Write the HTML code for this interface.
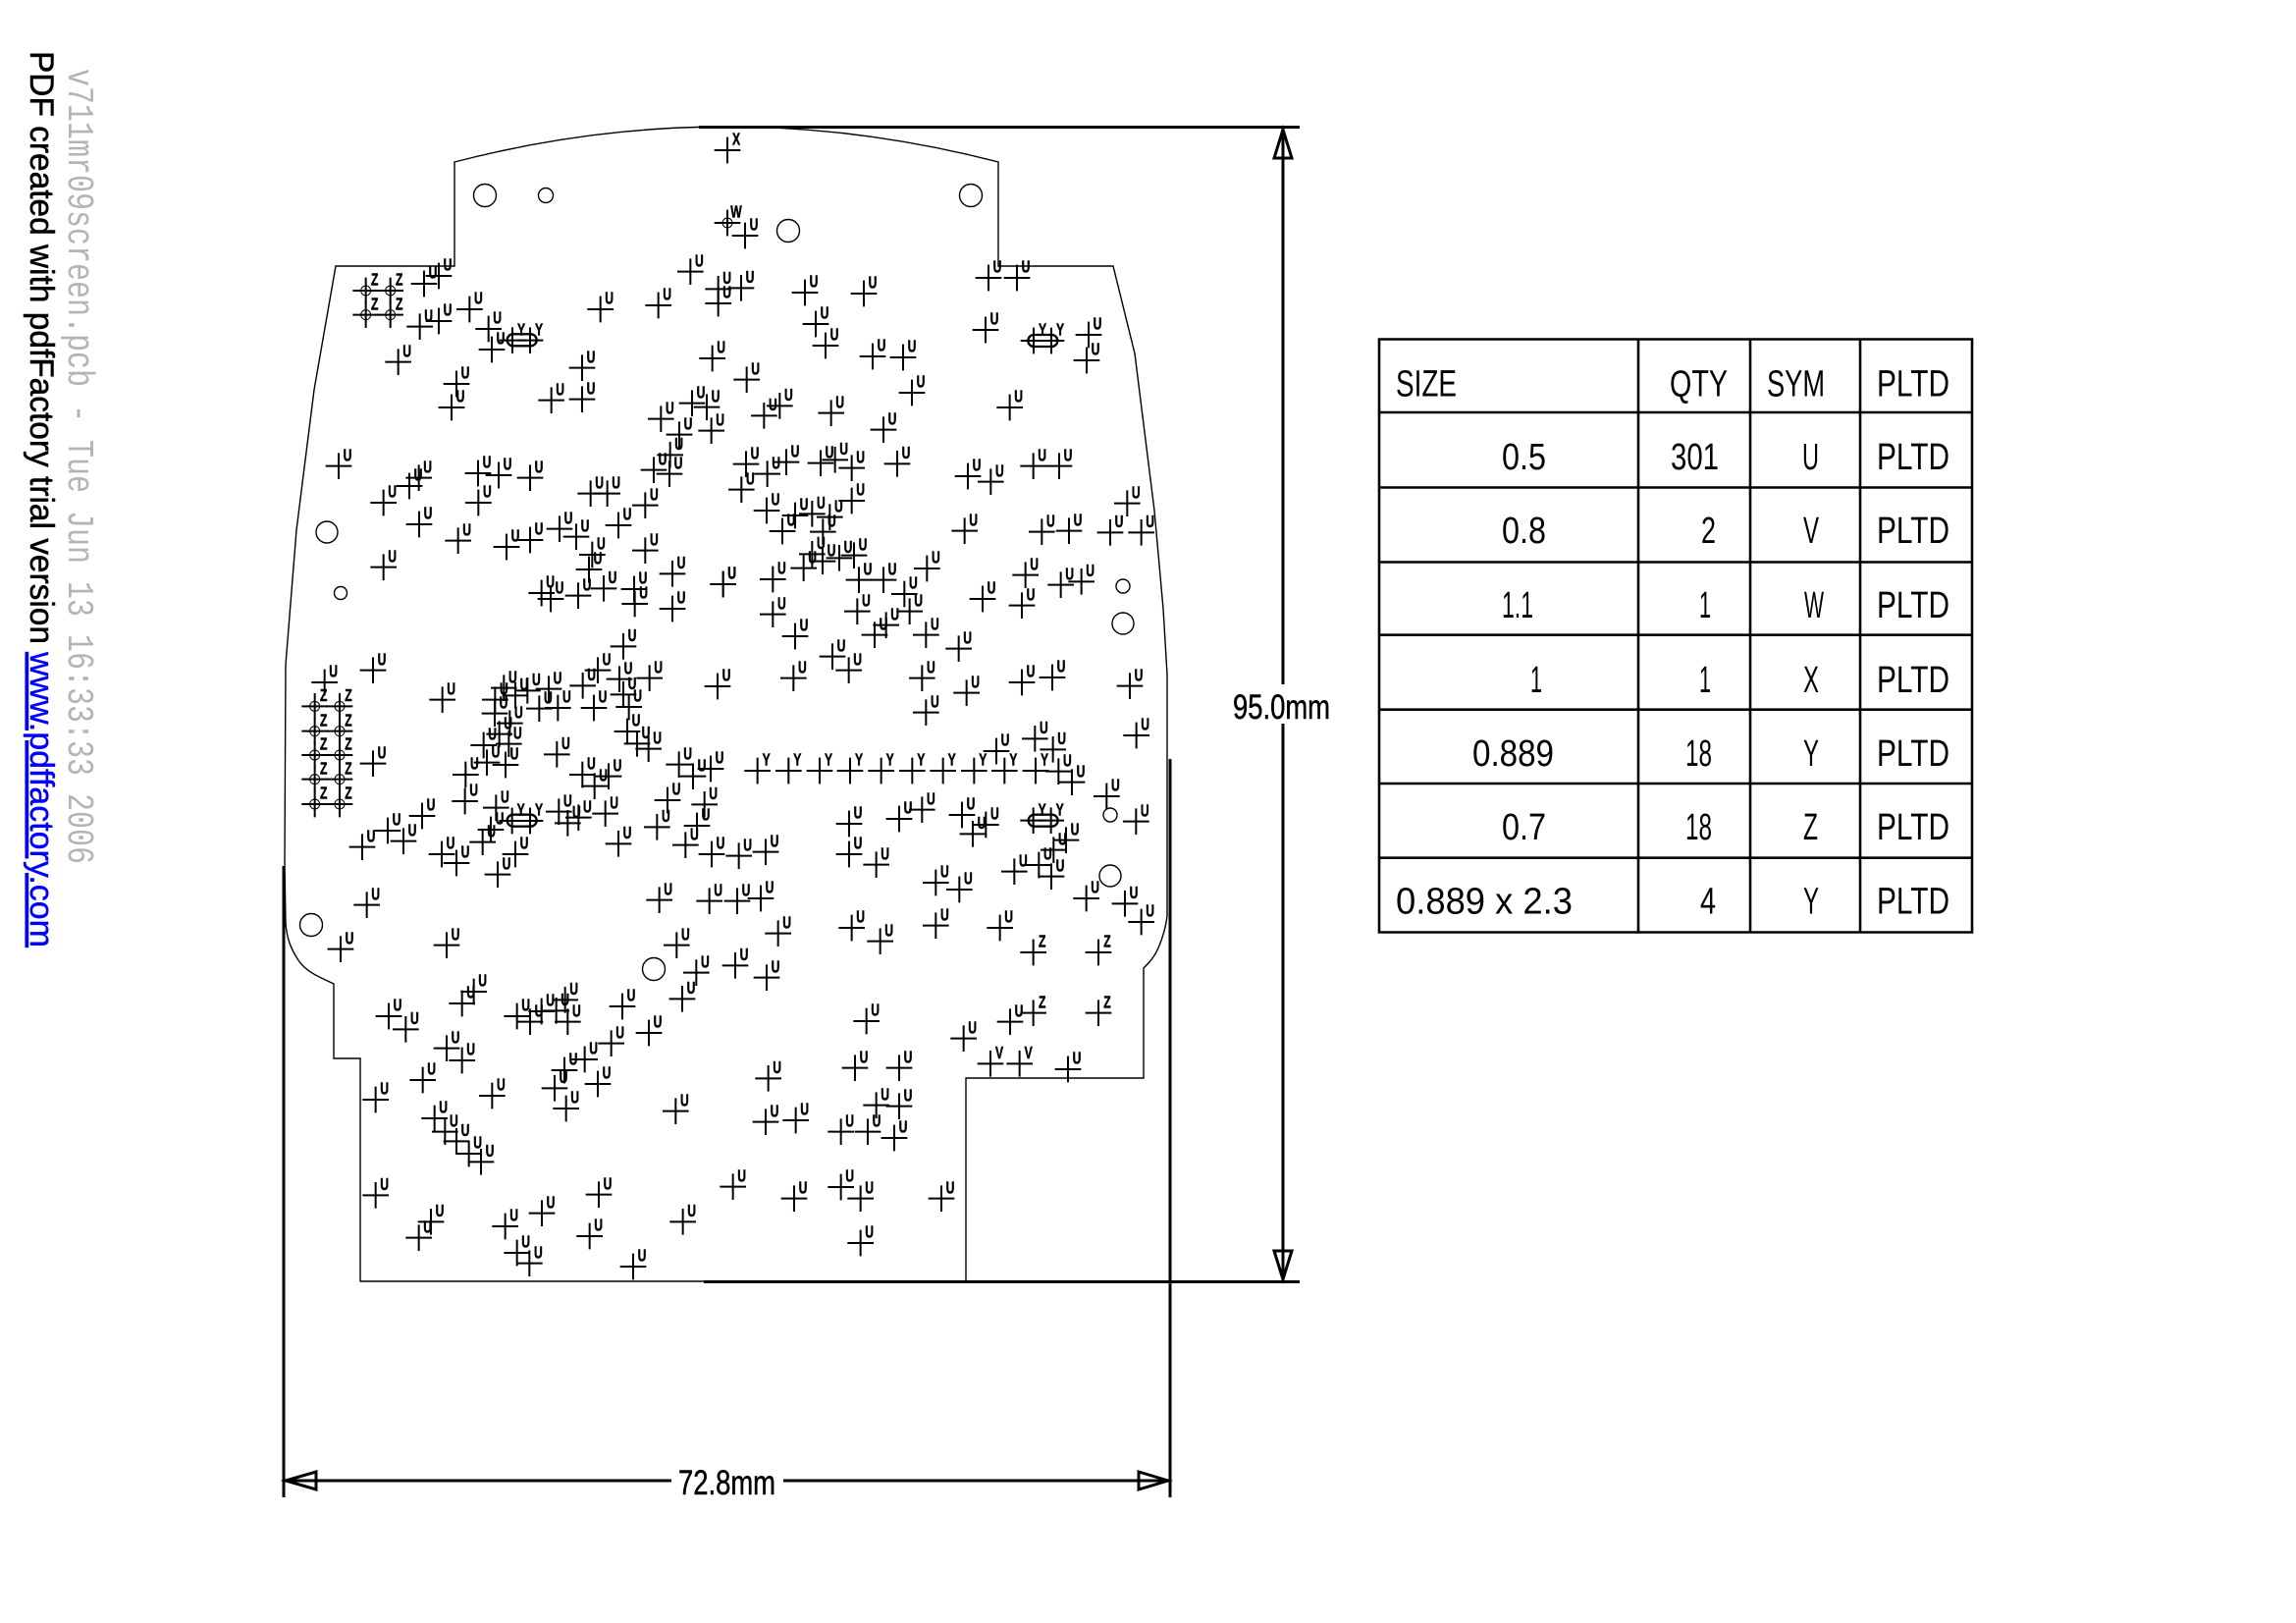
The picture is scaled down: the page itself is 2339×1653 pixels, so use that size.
<!DOCTYPE html>
<html><head><meta charset="utf-8"><title>Drill drawing</title>
<style>
html,body{margin:0;padding:0;background:#fff}
svg{display:block}
text{font-family:"Liberation Sans",sans-serif;fill:#000}
#b text{font-weight:bold;font-size:52px;text-anchor:middle;transform:translate(27px,-16px) scaleX(.7);stroke:#000;stroke-width:1.5px}
#b path,#b use{stroke:#000;fill:none}
#t text{font-size:38px}
</style></head>
<body>
<svg xmlns="http://www.w3.org/2000/svg" width="2339" height="1653" viewBox="0 0 2339 1653">
<defs>
<path id="c" d="M-40 0H40M0-40V40" stroke-width="6" stroke="#000" fill="none"/>
<circle id="o" r="15" stroke-width="3" stroke="#000" fill="none"/>
</defs>

<!-- side text -->
<text transform="translate(70,70) rotate(90)" font-size="38" textLength="810" lengthAdjust="spacingAndGlyphs" style="font-family:'Liberation Mono',monospace;fill:#b4b4b4">v711mr09screen.pcb - Tue Jun 13 16:33:33 2006</text>
<text transform="translate(31,52) rotate(90)" font-size="34" textLength="604" lengthAdjust="spacingAndGlyphs" style="stroke:#000;stroke-width:.5">PDF created with pdfFactory trial version</text>
<text transform="translate(31,664) rotate(90)" font-size="34" textLength="301" lengthAdjust="spacingAndGlyphs" style="fill:#0000ff;stroke:#0000ff;stroke-width:.4;text-decoration:underline">www.pdffactory.com</text>

<!-- board outline -->
<path fill="none" stroke="#000" stroke-width="1.4" d="M463 165Q740 93 1017 165V271H1134L1156 360L1176 520L1185 620L1189 687V933C1187 950 1180 967 1176 973C1172 979 1170 981 1165 986V1098H984V1305H367V1078H340V1002C325 995 312 990 304 978C296 966 292 955 291 940L290 880L291 677L302 540L320 397L342 271H463Z"/>
<g fill="none" stroke="#000" stroke-width="1.4">
<circle cx="494" cy="199" r="11.5"/><circle cx="556" cy="199" r="7.5"/><circle cx="803" cy="235" r="11.5"/><circle cx="989" cy="199" r="11.5"/>
<circle cx="333" cy="542" r="11"/><circle cx="347" cy="604" r="6.5"/><circle cx="1144" cy="597" r="7"/><circle cx="1144" cy="635" r="11"/>
<circle cx="1131" cy="830" r="7"/><circle cx="1131" cy="892" r="11"/><circle cx="317" cy="942" r="11.5"/><circle cx="666" cy="987" r="11.5"/>
</g>

<!-- dimensions -->
<g fill="none" stroke="#000" stroke-width="3">
<path d="M712 129.5H1324M717 1305.5H1324M289 882V1525M1192 773V1525"/>
<path d="M1307 130V697M1307 737V1305"/>
<path d="M1307 132L1298 161H1316ZM1307 1303L1298 1274H1316Z"/>
<path d="M289 1508H684M798 1508H1191"/>
<path d="M291 1508L322 1499V1517ZM1190 1508L1160 1499V1517Z"/>
</g>
<text x="1256" y="732" font-size="35" textLength="99" lengthAdjust="spacingAndGlyphs" style="stroke:#000;stroke-width:.5">95.0mm</text>
<text x="691" y="1522" font-size="35" textLength="99" lengthAdjust="spacingAndGlyphs" style="stroke:#000;stroke-width:.5">72.8mm</text>

<!-- table -->
<g id="t">
<path fill="none" stroke="#000" stroke-width="2.6" d="M1405 345.500H2009V949.500H1405ZM1669 345.500V949.500M1783 345.500V949.500M1895 345.500V949.500M1405 420H2009M1405 496.500H2009M1405 572.500H2009M1405 646.700H2009M1405 722.700H2009M1405 798H2009M1405 873.700H2009"/>
<text x="1422" y="403.500" textLength="62" lengthAdjust="spacingAndGlyphs">SIZE</text><text x="1701" y="403.500" textLength="59" lengthAdjust="spacingAndGlyphs">QTY</text><text x="1800" y="403.500" textLength="59" lengthAdjust="spacingAndGlyphs">SYM</text><text x="1912" y="403.500" textLength="74" lengthAdjust="spacingAndGlyphs">PLTD</text>
<text x="1530" y="478" textLength="45" lengthAdjust="spacingAndGlyphs">0.5</text><text x="1702" y="478" textLength="49" lengthAdjust="spacingAndGlyphs">301</text><text x="1836" y="478" textLength="17" lengthAdjust="spacingAndGlyphs">U</text><text x="1912" y="478" textLength="74" lengthAdjust="spacingAndGlyphs">PLTD</text>
<text x="1530" y="553" textLength="45" lengthAdjust="spacingAndGlyphs">0.8</text><text x="1733" y="553" textLength="15" lengthAdjust="spacingAndGlyphs">2</text><text x="1837" y="553" textLength="16" lengthAdjust="spacingAndGlyphs">V</text><text x="1912" y="553" textLength="74" lengthAdjust="spacingAndGlyphs">PLTD</text>
<text x="1530" y="629" textLength="32" lengthAdjust="spacingAndGlyphs">1.1</text><text x="1731" y="629" textLength="12" lengthAdjust="spacingAndGlyphs">1</text><text x="1838" y="629" textLength="20" lengthAdjust="spacingAndGlyphs">W</text><text x="1912" y="629" textLength="74" lengthAdjust="spacingAndGlyphs">PLTD</text>
<text x="1559" y="705" textLength="12" lengthAdjust="spacingAndGlyphs">1</text><text x="1731" y="705" textLength="12" lengthAdjust="spacingAndGlyphs">1</text><text x="1837" y="705" textLength="16" lengthAdjust="spacingAndGlyphs">X</text><text x="1912" y="705" textLength="74" lengthAdjust="spacingAndGlyphs">PLTD</text>
<text x="1500" y="780" textLength="83" lengthAdjust="spacingAndGlyphs">0.889</text><text x="1717" y="780" textLength="27" lengthAdjust="spacingAndGlyphs">18</text><text x="1837" y="780" textLength="16" lengthAdjust="spacingAndGlyphs">Y</text><text x="1912" y="780" textLength="74" lengthAdjust="spacingAndGlyphs">PLTD</text>
<text x="1530" y="855" textLength="45" lengthAdjust="spacingAndGlyphs">0.7</text><text x="1717" y="855" textLength="27" lengthAdjust="spacingAndGlyphs">18</text><text x="1837" y="855" textLength="15" lengthAdjust="spacingAndGlyphs">Z</text><text x="1912" y="855" textLength="74" lengthAdjust="spacingAndGlyphs">PLTD</text>
<text x="1422" y="930.500" textLength="180" lengthAdjust="spacingAndGlyphs">0.889 x 2.3</text><text x="1732" y="930.500" textLength="16" lengthAdjust="spacingAndGlyphs">4</text><text x="1837" y="930.500" textLength="16" lengthAdjust="spacingAndGlyphs">Y</text><text x="1912" y="930.500" textLength="74" lengthAdjust="spacingAndGlyphs">PLTD</text>
</g>

<!-- holes -->
<g id="b" transform="scale(.33333)">
<g>
<g transform="translate(2223 459)"><use href="#c"/><text>X</text></g>
<g transform="translate(2223 681)"><use href="#c"/><use href="#o"/><text>W</text></g>
<g transform="translate(2277 720)"><use href="#c"/><text>U</text></g>
<g transform="translate(2460 894)"><use href="#c"/><text>U</text></g>
<g transform="translate(2640 897)"><use href="#c"/><text>U</text></g>
<g transform="translate(2493 990)"><use href="#c"/><text>U</text></g>
<g transform="translate(2523 1056)"><use href="#c"/><text>U</text></g>
<g transform="translate(2667 1089)"><use href="#c"/><text>U</text></g>
<g transform="translate(2760 1092)"><use href="#c"/><text>U</text></g>
<g transform="translate(2787 1200)"><use href="#c"/><text>U</text></g>
<g transform="translate(3021 849)"><use href="#c"/><text>U</text></g>
<g transform="translate(3108 849)"><use href="#c"/><text>U</text></g>
<g transform="translate(3012 1008)"><use href="#c"/><text>U</text></g>
<g transform="translate(3327 1023)"><use href="#c"/><text>U</text></g>
<g transform="translate(3321 1101)"><use href="#c"/><text>U</text></g>
<g transform="translate(3159 1041)"><use href="#c"/><text>Y</text></g>
<g transform="translate(3213 1041)"><use href="#c"/><text>Y</text></g>
<rect x="3142" y="1023" width="90" height="36" rx="18" fill="none" stroke="#000" stroke-width="7"/>
</g>

<g transform="translate(960 750)">
<g transform="translate(158 138)"><use href="#c"/><use href="#o"/><text>Z</text></g>
<g transform="translate(233 138)"><use href="#c"/><use href="#o"/><text>Z</text></g>
<g transform="translate(158 212)"><use href="#c"/><use href="#o"/><text>Z</text></g>
<g transform="translate(233 212)"><use href="#c"/><use href="#o"/><text>Z</text></g>
<g transform="translate(606 290)"><use href="#c"/><text>Y</text></g>
<g transform="translate(660 290)"><use href="#c"/><text>Y</text></g>
<rect x="590" y="271" width="90" height="36" rx="18" fill="none" stroke="#000" stroke-width="7"/>
<g transform="translate(336 117)"><use href="#c"/><text>U</text></g>
<g transform="translate(381 93)"><use href="#c"/><text>U</text></g>
<g transform="translate(323 248)"><use href="#c"/><text>U</text></g>
<g transform="translate(381 231)"><use href="#c"/><text>U</text></g>
<g transform="translate(475 195)"><use href="#c"/><text>U</text></g>
<g transform="translate(533 255)"><use href="#c"/><text>U</text></g>
<g transform="translate(543 318)"><use href="#c"/><text>U</text></g>
<g transform="translate(257 356)"><use href="#c"/><text>U</text></g>
<g transform="translate(435 423)"><use href="#c"/><text>U</text></g>
<g transform="translate(875 195)"><use href="#c"/><text>U</text></g>
<g transform="translate(1052 183)"><use href="#c"/><text>U</text></g>
<g transform="translate(1150 80)"><use href="#c"/><text>U</text></g>
<g transform="translate(1235 133)"><use href="#c"/><text>U</text></g>
<g transform="translate(1305 130)"><use href="#c"/><text>U</text></g>
<g transform="translate(1235 177)"><use href="#c"/><text>U</text></g>
<g transform="translate(1217 345)"><use href="#c"/><text>U</text></g>
<g transform="translate(1322 410)"><use href="#c"/><text>U</text></g>
<g transform="translate(819 374)"><use href="#c"/><text>U</text></g>
<g transform="translate(725 473)"><use href="#c"/><text>U</text></g>
<g transform="translate(819 470)"><use href="#c"/><text>U</text></g>
<g transform="translate(420 495)"><use href="#c"/><text>U</text></g>
<g transform="translate(1060 530)"><use href="#c"/><text>U</text></g>
<g transform="translate(1155 482)"><use href="#c"/><text>U</text></g>
<g transform="translate(1200 494)"><use href="#c"/><text>U</text></g>
<g transform="translate(1116 578)"><use href="#c"/><text>U</text></g>
<g transform="translate(1214 566)"><use href="#c"/><text>U</text></g>
<g transform="translate(1088 640)"><use href="#c"/><text>U</text></g>
<g transform="translate(1038 686)"><use href="#c"/><text>U</text></g>
<g transform="translate(1086 698)"><use href="#c"/><text>U</text></g>
<g transform="translate(1012 794)"><use href="#c"/><text>U</text></g>
<g transform="translate(845 758)"><use href="#c"/><text>U</text></g>
<g transform="translate(896 758)"><use href="#c"/><text>U</text></g>
<g transform="translate(930 855)"><use href="#c"/><text>U</text></g>
<g transform="translate(75 674)"><use href="#c"/><text>U</text></g>
<g transform="translate(291 735)"><use href="#c"/><text>U</text></g>
<g transform="translate(320 710)"><use href="#c"/><text>U</text></g>
<g transform="translate(212 786)"><use href="#c"/><text>U</text></g>
<g transform="translate(501 696)"><use href="#c"/><text>U</text></g>
<g transform="translate(564 702)"><use href="#c"/><text>U</text></g>
<g transform="translate(660 710)"><use href="#c"/><text>U</text></g>
<g transform="translate(502 786)"><use href="#c"/><text>U</text></g>
<g transform="translate(321 852)"><use href="#c"/><text>U</text></g>
<g transform="translate(750 866)"><use href="#c"/><text>U</text></g>
</g>

<g transform="translate(810 1620)">
<g transform="translate(152 538)"><use href="#c"/><use href="#o"/><text>Z</text></g>
<g transform="translate(228 538)"><use href="#c"/><use href="#o"/><text>Z</text></g>
<g transform="translate(152 614)"><use href="#c"/><use href="#o"/><text>Z</text></g>
<g transform="translate(228 614)"><use href="#c"/><use href="#o"/><text>Z</text></g>
<g transform="translate(152 687)"><use href="#c"/><use href="#o"/><text>Z</text></g>
<g transform="translate(228 687)"><use href="#c"/><use href="#o"/><text>Z</text></g>
<g transform="translate(152 761)"><use href="#c"/><use href="#o"/><text>Z</text></g>
<g transform="translate(228 761)"><use href="#c"/><use href="#o"/><text>Z</text></g>
<g transform="translate(152 837)"><use href="#c"/><use href="#o"/><text>Z</text></g>
<g transform="translate(228 837)"><use href="#c"/><use href="#o"/><text>Z</text></g>
<g transform="translate(755 888)"><use href="#c"/><text>Y</text></g>
<g transform="translate(810 888)"><use href="#c"/><text>Y</text></g>
<rect x="740" y="869" width="90" height="36" rx="18" fill="none" stroke="#000" stroke-width="7"/>
<g transform="translate(362 113)"><use href="#c"/><text>U</text></g>
<g transform="translate(590 32)"><use href="#c"/><text>U</text></g>
<g transform="translate(738 51)"><use href="#c"/><text>U</text></g>
<g transform="translate(810 30)"><use href="#c"/><text>U</text></g>
<g transform="translate(951 20)"><use href="#c"/><text>U</text></g>
<g transform="translate(1000 75)"><use href="#c"/><text>U</text></g>
<g transform="translate(990 120)"><use href="#c"/><text>U</text></g>
<g transform="translate(1162 62)"><use href="#c"/><text>U</text></g>
<g transform="translate(1245 133)"><use href="#c"/><text>U</text></g>
<g transform="translate(1400 165)"><use href="#c"/><text>U</text></g>
<g transform="translate(1245 240)"><use href="#c"/><text>U</text></g>
<g transform="translate(845 192)"><use href="#c"/><text>U</text></g>
<g transform="translate(873 210)"><use href="#c"/><text>U</text></g>
<g transform="translate(957 200)"><use href="#c"/><text>U</text></g>
<g transform="translate(1035 178)"><use href="#c"/><text>U</text></g>
<g transform="translate(1128 180)"><use href="#c"/><text>U</text></g>
<g transform="translate(1130 225)"><use href="#c"/><text>U</text></g>
<g transform="translate(1095 355)"><use href="#c"/><text>U</text></g>
<g transform="translate(330 428)"><use href="#c"/><text>U</text></g>
<g transform="translate(182 465)"><use href="#c"/><text>U</text></g>
<g transform="translate(542 518)"><use href="#c"/><text>U</text></g>
<g transform="translate(330 713)"><use href="#c"/><text>U</text></g>
<g transform="translate(730 482)"><use href="#c"/><text>U</text></g>
<g transform="translate(765 505)"><use href="#c"/><text>U</text></g>
<g transform="translate(802 490)"><use href="#c"/><text>U</text></g>
<g transform="translate(867 485)"><use href="#c"/><text>U</text></g>
<g transform="translate(838 545)"><use href="#c"/><text>U</text></g>
<g transform="translate(895 543)"><use href="#c"/><text>U</text></g>
<g transform="translate(703 518)"><use href="#c"/><text>U</text></g>
<g transform="translate(702 560)"><use href="#c"/><text>U</text></g>
<g transform="translate(748 590)"><use href="#c"/><text>U</text></g>
<g transform="translate(716 623)"><use href="#c"/><text>U</text></g>
<g transform="translate(745 653)"><use href="#c"/><text>U</text></g>
<g transform="translate(668 657)"><use href="#c"/><text>U</text></g>
<g transform="translate(678 710)"><use href="#c"/><text>U</text></g>
<g transform="translate(735 717)"><use href="#c"/><text>U</text></g>
<g transform="translate(613 747)"><use href="#c"/><text>U</text></g>
<g transform="translate(611 828)"><use href="#c"/><text>U</text></g>
<g transform="translate(706 848)"><use href="#c"/><text>U</text></g>
<g transform="translate(690 915)"><use href="#c"/><text>U</text></g>
<g transform="translate(665 953)"><use href="#c"/><text>U</text></g>
<g transform="translate(765 990)"><use href="#c"/><text>U</text></g>
<g transform="translate(711 1052)"><use href="#c"/><text>U</text></g>
<g transform="translate(540 990)"><use href="#c"/><text>U</text></g>
<g transform="translate(585 1017)"><use href="#c"/><text>U</text></g>
<g transform="translate(480 873)"><use href="#c"/><text>U</text></g>
<g transform="translate(375 918)"><use href="#c"/><text>U</text></g>
<g transform="translate(423 950)"><use href="#c"/><text>U</text></g>
<g transform="translate(297 968)"><use href="#c"/><text>U</text></g>
<g transform="translate(898 860)"><use href="#c"/><text>U</text></g>
<g transform="translate(925 895)"><use href="#c"/><text>U</text></g>
<g transform="translate(958 878)"><use href="#c"/><text>U</text></g>
<g transform="translate(1040 866)"><use href="#c"/><text>U</text></g>
<g transform="translate(1080 958)"><use href="#c"/><text>U</text></g>
<g transform="translate(1198 907)"><use href="#c"/><text>U</text></g>
<g transform="translate(1320 903)"><use href="#c"/><text>U</text></g>
<g transform="translate(1285 962)"><use href="#c"/><text>U</text></g>
<g transform="translate(1365 990)"><use href="#c"/><text>U</text></g>
<g transform="translate(1230 825)"><use href="#c"/><text>U</text></g>
<g transform="translate(1343 838)"><use href="#c"/><text>U</text></g>
<g transform="translate(892 685)"><use href="#c"/><text>U</text></g>
<g transform="translate(971 475)"><use href="#c"/><text>U</text></g>
<g transform="translate(1017 428)"><use href="#c"/><text>U</text></g>
<g transform="translate(1083 455)"><use href="#c"/><text>U</text></g>
<g transform="translate(1175 452)"><use href="#c"/><text>U</text></g>
<g transform="translate(1095 502)"><use href="#c"/><text>U</text></g>
<g transform="translate(1112 540)"><use href="#c"/><text>U</text></g>
<g transform="translate(1107 615)"><use href="#c"/><text>U</text></g>
<g transform="translate(1137 652)"><use href="#c"/><text>U</text></g>
<g transform="translate(1172 668)"><use href="#c"/><text>U</text></g>
<g transform="translate(1005 543)"><use href="#c"/><text>U</text></g>
<g transform="translate(1383 477)"><use href="#c"/><text>U</text></g>
<g transform="translate(1265 716)"><use href="#c"/><text>U</text></g>
<g transform="translate(1308 752)"><use href="#c"/><text>U</text></g>
<g transform="translate(1362 729)"><use href="#c"/><text>U</text></g>
<g transform="translate(970 747)"><use href="#c"/><text>U</text></g>
<g transform="translate(1007 782)"><use href="#c"/><text>U</text></g>
<g transform="translate(1050 752)"><use href="#c"/><text>U</text></g>
<g transform="translate(1205 1130)"><use href="#c"/><text>U</text></g>
<g transform="translate(1358 1133)"><use href="#c"/><text>U</text></g>
<g transform="translate(311 1145)"><use href="#c"/><text>U</text></g>
</g>

<g transform="translate(810 2790)">
<g transform="translate(231 110)"><use href="#c"/><text>U</text></g>
<g transform="translate(555 98)"><use href="#c"/><text>U</text></g>
<g transform="translate(1258 98)"><use href="#c"/><text>U</text></g>
<g transform="translate(1318 182)"><use href="#c"/><text>U</text></g>
<g transform="translate(1275 262)"><use href="#c"/><text>U</text></g>
<g transform="translate(1173 366)"><use href="#c"/><text>U</text></g>
<g transform="translate(1092 285)"><use href="#c"/><text>U</text></g>
<g transform="translate(638 240)"><use href="#c"/><text>U</text></g>
<g transform="translate(602 276)"><use href="#c"/><text>U</text></g>
<g transform="translate(378 315)"><use href="#c"/><text>U</text></g>
<g transform="translate(430 355)"><use href="#c"/><text>U</text></g>
<g transform="translate(770 315)"><use href="#c"/><text>U</text></g>
<g transform="translate(810 332)"><use href="#c"/><text>U</text></g>
<g transform="translate(845 300)"><use href="#c"/><text>U</text></g>
<g transform="translate(890 298)"><use href="#c"/><text>U</text></g>
<g transform="translate(917 265)"><use href="#c"/><text>U</text></g>
<g transform="translate(925 332)"><use href="#c"/><text>U</text></g>
<g transform="translate(1058 398)"><use href="#c"/><text>U</text></g>
<g transform="translate(977 447)"><use href="#c"/><text>U</text></g>
<g transform="translate(915 480)"><use href="#c"/><text>U</text></g>
<g transform="translate(885 535)"><use href="#c"/><text>U</text></g>
<g transform="translate(1017 522)"><use href="#c"/><text>U</text></g>
<g transform="translate(920 597)"><use href="#c"/><text>U</text></g>
<g transform="translate(555 413)"><use href="#c"/><text>U</text></g>
<g transform="translate(602 450)"><use href="#c"/><text>U</text></g>
<g transform="translate(482 510)"><use href="#c"/><text>U</text></g>
<g transform="translate(694 558)"><use href="#c"/><text>U</text></g>
<g transform="translate(338 570)"><use href="#c"/><text>U</text></g>
<g transform="translate(518 627)"><use href="#c"/><text>U</text></g>
<g transform="translate(550 668)"><use href="#c"/><text>U</text></g>
<g transform="translate(585 697)"><use href="#c"/><text>U</text></g>
<g transform="translate(623 735)"><use href="#c"/><text>U</text></g>
<g transform="translate(660 760)"><use href="#c"/><text>U</text></g>
<g transform="translate(1255 605)"><use href="#c"/><text>U</text></g>
<g transform="translate(338 862)"><use href="#c"/><text>U</text></g>
<g transform="translate(507 943)"><use href="#c"/><text>U</text></g>
<g transform="translate(470 992)"><use href="#c"/><text>U</text></g>
<g transform="translate(734 957)"><use href="#c"/><text>U</text></g>
<g transform="translate(846 917)"><use href="#c"/><text>U</text></g>
<g transform="translate(1020 860)"><use href="#c"/><text>U</text></g>
<g transform="translate(992 987)"><use href="#c"/><text>U</text></g>
<g transform="translate(1277 943)"><use href="#c"/><text>U</text></g>
<g transform="translate(1430 836)"><use href="#c"/><text>U</text></g>
<g transform="translate(770 1038)"><use href="#c"/><text>U</text></g>
<g transform="translate(808 1070)"><use href="#c"/><text>U</text></g>
<g transform="translate(1125 1080)"><use href="#c"/><text>U</text></g>
</g>

<g transform="translate(2250 3000)">
<g transform="translate(398 120)"><use href="#c"/><text>U</text></g>
<g transform="translate(695 173)"><use href="#c"/><text>U</text></g>
<g transform="translate(837 122)"><use href="#c"/><text>U</text></g>
<g transform="translate(908 95)"><use href="#c"/><text>Z</text></g>
<g transform="translate(1107 95)"><use href="#c"/><text>Z</text></g>
<g transform="translate(98 295)"><use href="#c"/><text>U</text></g>
<g transform="translate(363 263)"><use href="#c"/><text>U</text></g>
<g transform="translate(498 263)"><use href="#c"/><text>U</text></g>
<g transform="translate(777 250)"><use href="#c"/><text>V</text></g>
<g transform="translate(866 250)"><use href="#c"/><text>V</text></g>
<g transform="translate(1014 267)"><use href="#c"/><text>U</text></g>
<g transform="translate(428 377)"><use href="#c"/><text>U</text></g>
<g transform="translate(498 380)"><use href="#c"/><text>U</text></g>
<g transform="translate(90 428)"><use href="#c"/><text>U</text></g>
<g transform="translate(182 423)"><use href="#c"/><text>U</text></g>
<g transform="translate(320 458)"><use href="#c"/><text>U</text></g>
<g transform="translate(402 458)"><use href="#c"/><text>U</text></g>
<g transform="translate(483 477)"><use href="#c"/><text>U</text></g>
<g transform="translate(177 662)"><use href="#c"/><text>U</text></g>
<g transform="translate(320 627)"><use href="#c"/><text>U</text></g>
<g transform="translate(380 662)"><use href="#c"/><text>U</text></g>
<g transform="translate(627 662)"><use href="#c"/><text>U</text></g>
<g transform="translate(380 798)"><use href="#c"/><text>U</text></g>
</g>

<g transform="translate(2190 1200)">
<g transform="translate(145 70)"><use href="#c"/><text>U</text></g>
<g transform="translate(193 40)"><use href="#c"/><text>U</text></g>
<g transform="translate(350 62)"><use href="#c"/><text>U</text></g>
<g transform="translate(510 113)"><use href="#c"/><text>U</text></g>
<g transform="translate(896 45)"><use href="#c"/><text>U</text></g>
<g transform="translate(90 218)"><use href="#c"/><text>U</text></g>
<g transform="translate(155 248)"><use href="#c"/><text>U</text></g>
<g transform="translate(213 212)"><use href="#c"/><text>U</text></g>
<g transform="translate(76 296)"><use href="#c"/><text>U</text></g>
<g transform="translate(318 215)"><use href="#c"/><text>U</text></g>
<g transform="translate(362 205)"><use href="#c"/><text>U</text></g>
<g transform="translate(413 230)"><use href="#c"/><text>U</text></g>
<g transform="translate(552 217)"><use href="#c"/><text>U</text></g>
<g transform="translate(768 255)"><use href="#c"/><text>U</text></g>
<g transform="translate(838 272)"><use href="#c"/><text>U</text></g>
<g transform="translate(968 224)"><use href="#c"/><text>U</text></g>
<g transform="translate(1047 224)"><use href="#c"/><text>U</text></g>
<g transform="translate(413 330)"><use href="#c"/><text>U</text></g>
<g transform="translate(153 360)"><use href="#c"/><text>U</text></g>
<g transform="translate(240 375)"><use href="#c"/><text>U</text></g>
<g transform="translate(292 370)"><use href="#c"/><text>U</text></g>
<g transform="translate(346 380)"><use href="#c"/><text>U</text></g>
<g transform="translate(201 423)"><use href="#c"/><text>U</text></g>
<g transform="translate(325 425)"><use href="#c"/><text>U</text></g>
<g transform="translate(292 493)"><use href="#c"/><text>U</text></g>
<g transform="translate(324 515)"><use href="#c"/><text>U</text></g>
<g transform="translate(375 505)"><use href="#c"/><text>U</text></g>
<g transform="translate(420 497)"><use href="#c"/><text>U</text></g>
<g transform="translate(266 536)"><use href="#c"/><text>U</text></g>
<g transform="translate(20 585)"><use href="#c"/><text>U</text></g>
<g transform="translate(172 570)"><use href="#c"/><text>U</text></g>
<g transform="translate(435 572)"><use href="#c"/><text>U</text></g>
<g transform="translate(510 572)"><use href="#c"/><text>U</text></g>
<g transform="translate(643 537)"><use href="#c"/><text>U</text></g>
<g transform="translate(574 615)"><use href="#c"/><text>U</text></g>
<g transform="translate(590 668)"><use href="#c"/><text>U</text></g>
<g transform="translate(172 677)"><use href="#c"/><text>U</text></g>
<g transform="translate(430 668)"><use href="#c"/><text>U</text></g>
<g transform="translate(518 710)"><use href="#c"/><text>U</text></g>
<g transform="translate(483 740)"><use href="#c"/><text>U</text></g>
<g transform="translate(640 740)"><use href="#c"/><text>U</text></g>
<g transform="translate(240 744)"><use href="#c"/><text>U</text></g>
<g transform="translate(740 782)"><use href="#c"/><text>U</text></g>
<g transform="translate(354 806)"><use href="#c"/><text>U</text></g>
<g transform="translate(404 848)"><use href="#c"/><text>U</text></g>
<g transform="translate(235 872)"><use href="#c"/><text>U</text></g>
<g transform="translate(628 872)"><use href="#c"/><text>U</text></g>
<g transform="translate(933 885)"><use href="#c"/><text>U</text></g>
<g transform="translate(1026 870)"><use href="#c"/><text>U</text></g>
<g transform="translate(1263 896)"><use href="#c"/><text>U</text></g>
<g transform="translate(758 422)"><use href="#c"/><text>U</text></g>
<g transform="translate(994 425)"><use href="#c"/><text>U</text></g>
<g transform="translate(1077 422)"><use href="#c"/><text>U</text></g>
<g transform="translate(1203 427)"><use href="#c"/><text>U</text></g>
<g transform="translate(1298 427)"><use href="#c"/><text>U</text></g>
<g transform="translate(1255 338)"><use href="#c"/><text>U</text></g>
<g transform="translate(944 557)"><use href="#c"/><text>U</text></g>
<g transform="translate(1052 587)"><use href="#c"/><text>U</text></g>
<g transform="translate(1115 577)"><use href="#c"/><text>U</text></g>
<g transform="translate(813 630)"><use href="#c"/><text>U</text></g>
<g transform="translate(933 650)"><use href="#c"/><text>U</text></g>
</g>

<g transform="translate(2190 2100)">
<g transform="translate(640 77)"><use href="#c"/><text>U</text></g>
<g transform="translate(764 17)"><use href="#c"/><text>U</text></g>
<g transform="translate(973 157)"><use href="#c"/><text>U</text></g>
<g transform="translate(855 195)"><use href="#c"/><text>U</text></g>
<g transform="translate(1028 190)"><use href="#c"/><text>U</text></g>
<g transform="translate(1283 147)"><use href="#c"/><text>U</text></g>
<g transform="translate(125 255)"><use href="#c"/><text>Y</text></g>
<g transform="translate(220 255)"><use href="#c"/><text>Y</text></g>
<g transform="translate(315 255)"><use href="#c"/><text>Y</text></g>
<g transform="translate(408 255)"><use href="#c"/><text>Y</text></g>
<g transform="translate(503 255)"><use href="#c"/><text>Y</text></g>
<g transform="translate(598 255)"><use href="#c"/><text>Y</text></g>
<g transform="translate(692 255)"><use href="#c"/><text>Y</text></g>
<g transform="translate(787 255)"><use href="#c"/><text>Y</text></g>
<g transform="translate(880 255)"><use href="#c"/><text>Y</text></g>
<g transform="translate(975 255)"><use href="#c"/><text>Y</text></g>
<g transform="translate(1045 257)"><use href="#c"/><text>U</text></g>
<g transform="translate(1086 290)"><use href="#c"/><text>U</text></g>
<g transform="translate(1192 333)"><use href="#c"/><text>U</text></g>
<g transform="translate(1282 410)"><use href="#c"/><text>U</text></g>
<g transform="translate(405 417)"><use href="#c"/><text>U</text></g>
<g transform="translate(558 402)"><use href="#c"/><text>U</text></g>
<g transform="translate(628 374)"><use href="#c"/><text>U</text></g>
<g transform="translate(750 390)"><use href="#c"/><text>U</text></g>
<g transform="translate(823 420)"><use href="#c"/><text>U</text></g>
<g transform="translate(783 448)"><use href="#c"/><text>U</text></g>
<g transform="translate(968 407)"><use href="#c"/><text>Y</text></g>
<g transform="translate(1022 407)"><use href="#c"/><text>Y</text></g>
<rect x="953" y="389" width="90" height="36" rx="18" fill="none" stroke="#000" stroke-width="7"/>
<g transform="translate(1068 467)"><use href="#c"/><text>U</text></g>
<g transform="translate(1030 497)"><use href="#c"/><text>U</text></g>
<g transform="translate(985 543)"><use href="#c"/><text>U</text></g>
<g transform="translate(1023 578)"><use href="#c"/><text>U</text></g>
<g transform="translate(910 563)"><use href="#c"/><text>U</text></g>
<g transform="translate(405 510)"><use href="#c"/><text>U</text></g>
<g transform="translate(488 542)"><use href="#c"/><text>U</text></g>
<g transform="translate(150 503)"><use href="#c"/><text>U</text></g>
<g transform="translate(68 515)"><use href="#c"/><text>U</text></g>
<g transform="translate(63 653)"><use href="#c"/><text>U</text></g>
<g transform="translate(135 645)"><use href="#c"/><text>U</text></g>
<g transform="translate(670 597)"><use href="#c"/><text>U</text></g>
<g transform="translate(742 618)"><use href="#c"/><text>U</text></g>
<g transform="translate(1130 645)"><use href="#c"/><text>U</text></g>
<g transform="translate(1248 661)"><use href="#c"/><text>U</text></g>
<g transform="translate(1298 717)"><use href="#c"/><text>U</text></g>
<g transform="translate(188 752)"><use href="#c"/><text>U</text></g>
<g transform="translate(413 735)"><use href="#c"/><text>U</text></g>
<g transform="translate(500 776)"><use href="#c"/><text>U</text></g>
<g transform="translate(670 728)"><use href="#c"/><text>U</text></g>
<g transform="translate(866 735)"><use href="#c"/><text>U</text></g>
<g transform="translate(968 810)"><use href="#c"/><text>Z</text></g>
<g transform="translate(1167 810)"><use href="#c"/><text>Z</text></g>
<g transform="translate(57 850)"><use href="#c"/><text>U</text></g>
<g transform="translate(153 887)"><use href="#c"/><text>U</text></g>
</g>
</g>
</svg>
</body></html>
